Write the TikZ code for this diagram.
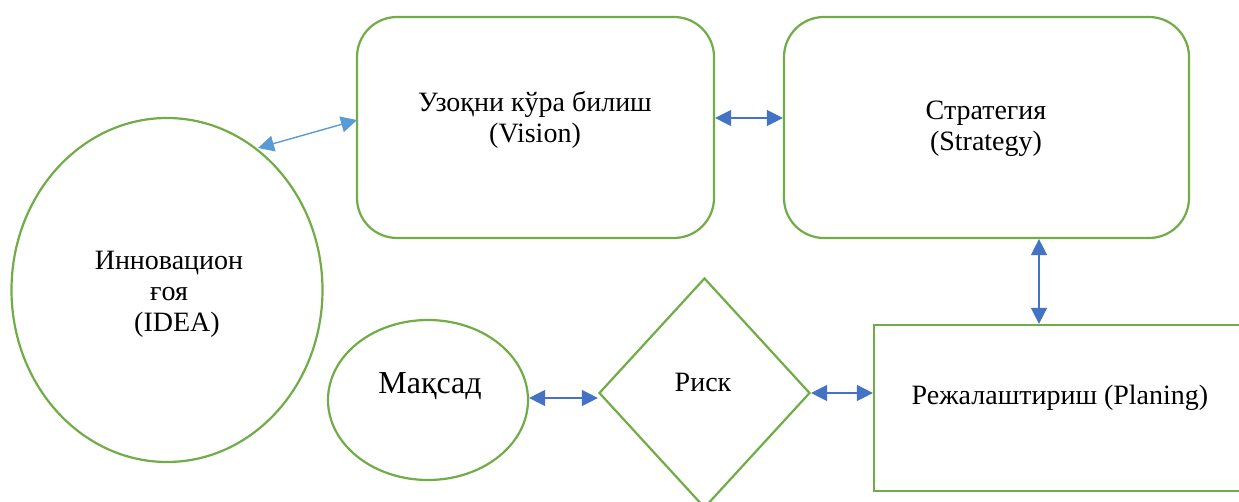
\documentclass[tikz,border=0pt]{standalone}
\usepackage{fontspec}
\setmainfont{Liberation Serif}
\usetikzlibrary{shapes.geometric,arrows.meta}
\definecolor{gr}{HTML}{70AD47}
\definecolor{bl}{HTML}{4472C4}
\definecolor{lb}{HTML}{5B9BD5}
\tikzset{
  shp/.style={draw=gr, line width=1.1pt, fill=white, inner sep=0pt},
  rbox/.style={shp, rectangle, rounded corners=20pt},
  txt/.style={align=center, font=\fontsize{14}{15.5}\selectfont, inner sep=0pt},
  conn/.style={draw=bl, line width=0.7pt, {Triangle[length=8pt,width=8pt]}-{Triangle[length=8pt,width=8pt]}}
}
\begin{document}
\begin{tikzpicture}[x=0.5pt,y=-0.5pt]
\useasboundingbox (0,0) rectangle (1239,502);
\clip (0,0) rectangle (1239,502);
\node[shp, ellipse, minimum width=155.5pt, minimum height=172pt] (idea) at (167,290) {};
\node[rbox, minimum width=178.5pt, minimum height=110.5pt] (vision) at (535.5,127.5) {};
\node[rbox, minimum width=202.5pt, minimum height=110.5pt] (strat) at (986.5,127.5) {};
\node[shp, rectangle, minimum width=186pt, minimum height=83pt] (plan) at (1060,408) {};
\node[shp, ellipse, minimum width=100pt, minimum height=80pt] (maq) at (428,400) {};
\node[shp, diamond, minimum width=105.5pt, minimum height=115pt] (risk) at (704.5,393) {};
\node[txt] (ideaT) at (169,294) {Инновацион\\ғоя\\\hspace{8pt}(IDEA)};
\node[txt] (visionT) at (535,120) {Узоқни кўра билиш\\(Vision)};
\node[txt] (stratT) at (986,129) {Стратегия\\(Strategy)};
\node[txt] (planT) at (1060,398) {Режалаштириш (Planing)};
\node[txt, font=\fontsize{16}{19}\selectfont] (maqT) at (430,386) {Мақсад};
\node[txt] (riskT) at (703,382) {Риск};
\coordinate (a1) at (258,148);
\coordinate (a2) at (357,120);
\draw[conn, draw=lb] (a1) -- (a2);
\draw[conn] (vision.east |- 0,118) -- (strat.west |- 0,118);
\draw[conn] (strat.south -| 1039,0) -- (plan.north -| 1039,0);
\draw[conn] (maq.east |- 0,398) -- (risk.west |- 0,398);
\draw[conn] (risk.east) -- (plan.west |- risk.east);
\end{tikzpicture}
\end{document}
